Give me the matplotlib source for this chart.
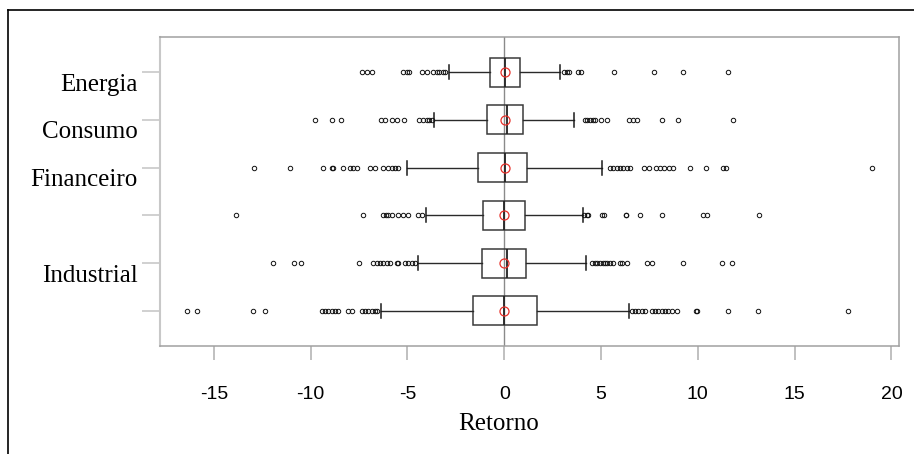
import matplotlib
matplotlib.use("Agg")
import matplotlib.pyplot as plt
from matplotlib.lines import Line2D
from matplotlib.transforms import ScaledTranslation

# row order top -> bottom
setores = ["Energia", "Consumo", "Financeiro", "", "Industrial", ""]
q1 = [-0.72, -0.88, -1.36, -1.08, -1.17, -1.60]
mediana = [0.04, 0.16, 0.05, -0.03, 0.16, -0.03]
q3 = [0.79, 0.98, 1.19, 1.05, 1.10, 1.70]
media = [0.04, 0.05, 0.05, 0.0, 0.0, 0.0]
whis_lo = [-2.84, -3.62, -5.04, -4.04, -4.44, -6.37]
whis_hi = [2.89, 3.60, 5.06, 4.08, 4.24, 6.44]
outliers = [
    [-7.37, -7.11, -6.85, -5.22, -5.01, -4.91, -4.27, -4.01, -3.67, -3.49, -3.36,
     -3.18, -3.06, 3.10, 3.22, 3.34, 3.79, 3.95, 5.67, 7.73, 9.21, 11.54],
    [-9.78, -8.92, -8.45, -6.37, -6.16, -5.82, -5.53, -5.17, -4.39, -4.22, -4.01,
     -3.87, -3.75, 4.17, 4.29, 4.43, 4.57, 4.69, 4.98, 5.32, 6.46, 6.63, 6.87,
     8.15, 9.0, 11.83],
    [-12.93, -11.07, -9.35, -8.92, -8.83, -8.32, -7.97, -7.80, -7.62, -6.93, -6.68,
     -6.25, -5.99, -5.82, -5.65, -5.48, 5.46, 5.63, 5.81, 5.98, 6.15, 6.32, 6.49,
     7.23, 7.47, 7.82, 8.04, 8.26, 8.51, 8.73, 9.59, 10.42, 11.31, 11.45, 18.98],
    [-13.86, -7.28, -6.28, -6.11, -5.99, -5.82, -5.48, -5.22, -4.96, -4.44, -4.27,
     4.13, 4.26, 4.34, 5.03, 5.17, 6.27, 6.30, 7.01, 8.13, 10.28, 10.49, 13.17],
    [-11.93, -10.86, -10.52, -7.49, -6.77, -6.59, -6.42, -6.25, -6.07, -5.90, -5.56,
     -5.48, -5.13, -4.96, -4.78, -4.61, 4.55, 4.69, 4.80, 4.94, 5.08, 5.20, 5.32,
     5.46, 5.60, 5.98, 6.06, 6.32, 7.36, 7.65, 9.21, 11.26, 11.76],
    [-16.37, -15.86, -13.0, -12.36, -9.40, -9.26, -9.09, -8.92, -8.74, -8.57, -8.06,
     -7.88, -7.37, -7.20, -7.02, -6.85, -6.68, -6.59, 6.61, 6.75, 6.92, 7.10, 7.27,
     7.61, 7.78, 7.95, 8.13, 8.30, 8.47, 8.65, 8.94, 9.90, 9.97, 11.54, 13.09, 17.75],
]
xticks = [-15, -10, -5, 0, 5, 10, 15, 20]

SERIF = ["Liberation Serif", "DejaVu Serif"]
SANS = ["Liberation Sans", "DejaVu Sans"]

fig = plt.figure(figsize=(9.14, 4.54), dpi=100, facecolor="white")
ax = fig.add_axes([160 / 914, 1 - 346 / 454, 739 / 914, 309 / 454])

stats = []
for i in range(len(setores)):
    stats.append(dict(med=mediana[i], q1=q1[i], q3=q3[i], whislo=whis_lo[i],
                      whishi=whis_hi[i], fliers=outliers[i], mean=media[i]))

pos = list(range(1, len(setores) + 1))
ax.axvline(0, color="#8a8a8a", lw=1.0, zorder=1)
ax.bxp(stats, positions=pos, vert=False, widths=0.61, capwidths=0.29,
       showmeans=True, patch_artist=True,
       boxprops=dict(facecolor="none", edgecolor="#3a3a3a", lw=1.1),
       whiskerprops=dict(color="#2a2a2a", lw=1.0),
       capprops=dict(color="#1a1a1a", lw=1.1),
       medianprops=dict(color="#222222", lw=1.3),
       meanprops=dict(marker="o", markerfacecolor="none", markeredgecolor="#e8302a",
                      markersize=6.5, markeredgewidth=0.9),
       flierprops=dict(marker="o", markerfacecolor="none", markeredgecolor="#111111",
                       markersize=3.2, markeredgewidth=0.7))

ax.set_xlim(-17.78, 20.39)
ax.set_ylim(6.736, 0.264)

ax.set_xticks(xticks)
ax.set_xticklabels([str(t) for t in xticks], family=SANS, fontsize=14)
ax.set_yticks(pos)
ax.set_yticklabels(setores, family=SERIF, fontsize=18)
ax.tick_params(axis="x", length=10, width=1.2, color="#b5b5b5", pad=19)
ax.tick_params(axis="y", length=13, width=1.2, color="#c8c8c8", pad=3)

# labels sit a little below their ticks
shift = ScaledTranslation(0, -0.1, fig.dpi_scale_trans)
for lab in ax.get_yticklabels():
    lab.set_transform(lab.get_transform() + shift)

for side in ["top", "right", "bottom"]:
    ax.spines[side].set_color("#a0a0a0")
    ax.spines[side].set_linewidth(1.1)
ax.spines["left"].set_color("#c8c8c8")
ax.spines["left"].set_linewidth(1.5)

fig.text(499 / 914, 1 - 424 / 454, "Retorno", family=SERIF, fontsize=18,
         ha="center", va="center")

# outer frame (left and top)
fig.add_artist(Line2D([8 / 914, 8 / 914], [0, 1 - 10 / 454], color="black", lw=1.2))
fig.add_artist(Line2D([8 / 914, 1], [1 - 10 / 454, 1 - 10 / 454], color="black", lw=1.2))

fig.savefig("out.png", dpi=100, facecolor="white")
